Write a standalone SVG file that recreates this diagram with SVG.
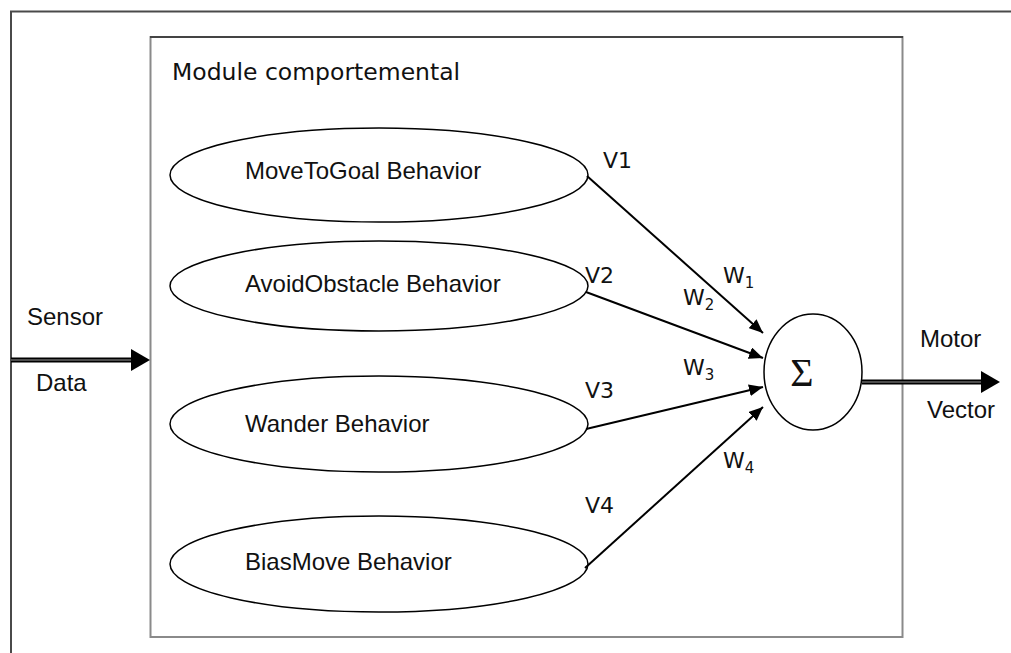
<svg xmlns="http://www.w3.org/2000/svg" width="1011" height="653" viewBox="0 0 1011 653">
  <style>
    .frame { fill: none; stroke: #4a4a4a; stroke-width: 2; }
    .box { fill: none; stroke: #8a8a8a; stroke-width: 2; }
    .node { fill: #fff; stroke: #000; stroke-width: 1.5; }
    .arial { font-family: "Liberation Sans", Arial, sans-serif; font-size: 24px; fill: #111; }
    .tahoma { font-family: "DejaVu Sans", Verdana, sans-serif; fill: #111; }
    .edge { stroke: #000; stroke-width: 2; fill: none; marker-end: url(#head); }
    .dbl-outer { stroke: #000; stroke-width: 5; fill: none; }
    .dbl-inner { stroke: #9a9a9a; stroke-width: 1.2; fill: none; }
  </style>
  <defs>
    <marker id="head" viewBox="0 0 14 12" refX="14" refY="6" markerWidth="14" markerHeight="12" markerUnits="userSpaceOnUse" orient="auto">
      <path d="M0,0 L14,6 L0,12 z" fill="#000"/>
    </marker>
  </defs>
  <rect width="1011" height="653" fill="#fff"/>

  <!-- outer frame -->
  <g id="frame">
    <polyline class="frame" points="11,653 11,11.5 1011,11.5"/>
  </g>

  <!-- behaviour module container -->
  <g id="module">
    <rect class="box" x="150.5" y="37" width="752" height="600"/>
    <line x1="150" y1="37" x2="903" y2="37" stroke="#444" stroke-width="2"/>
    <text class="tahoma" x="172" y="80" font-size="23.5">Module comportemental</text>
  </g>

  <g id="movetogoal">
    <ellipse class="node" cx="379" cy="175" rx="209" ry="47"/>
    <text class="arial" x="245" y="179">MoveToGoal Behavior</text>
  </g>
  <g id="avoidobstacle">
    <ellipse class="node" cx="379" cy="286" rx="209" ry="45"/>
    <text class="arial" x="245" y="292">AvoidObstacle Behavior</text>
  </g>
  <g id="wander">
    <ellipse class="node" cx="379" cy="424" rx="209" ry="48"/>
    <text class="arial" x="245" y="432">Wander Behavior</text>
  </g>
  <g id="biasmove">
    <ellipse class="node" cx="379" cy="564" rx="209" ry="48"/>
    <text class="arial" x="245" y="570">BiasMove Behavior</text>
  </g>

  <g id="sum">
    <ellipse class="node" cx="813" cy="372" rx="49" ry="58"/>
    <text x="802" y="386" font-family="'Liberation Serif', 'Times New Roman', serif" font-size="40" fill="#111" text-anchor="middle">Σ</text>
  </g>

  <g id="connectors">
    <line class="edge" x1="587" y1="176" x2="763" y2="333"/>
    <line class="edge" x1="586" y1="292" x2="763" y2="358"/>
    <line class="edge" x1="586" y1="429" x2="763" y2="387"/>
    <line class="edge" x1="585" y1="568" x2="763" y2="407"/>

    <!-- sensor input -->
    <line class="dbl-outer" x1="11" y1="360" x2="133" y2="360"/>
    <line class="dbl-inner" x1="11" y1="360" x2="133" y2="360"/>
    <path d="M131,349 L150,360 L131,371 z" fill="#000"/>

    <!-- motor output -->
    <line class="dbl-outer" x1="862" y1="382" x2="983" y2="382"/>
    <line class="dbl-inner" x1="862" y1="382" x2="983" y2="382"/>
    <path d="M981,371 L1000,382 L981,393 z" fill="#000"/>
  </g>

  <g id="labels">
    <text class="arial" x="27" y="325">Sensor</text>
    <text class="arial" x="36" y="391">Data</text>
    <text class="arial" x="920" y="347">Motor</text>
    <text class="arial" x="927" y="418">Vector</text>

    <text class="tahoma" font-size="22" x="603" y="168">V1</text>
    <text class="tahoma" font-size="22" x="585" y="283">V2</text>
    <text class="tahoma" font-size="22" x="585" y="398">V3</text>
    <text class="tahoma" font-size="22" x="585" y="513">V4</text>

    <text class="tahoma" font-size="22" x="723" y="283">W<tspan font-size="15" dy="5">1</tspan></text>
    <text class="tahoma" font-size="22" x="683" y="305">W<tspan font-size="15" dy="5">2</tspan></text>
    <text class="tahoma" font-size="22" x="683" y="375">W<tspan font-size="15" dy="5">3</tspan></text>
    <text class="tahoma" font-size="22" x="723" y="468">W<tspan font-size="15" dy="5">4</tspan></text>
  </g>
</svg>
